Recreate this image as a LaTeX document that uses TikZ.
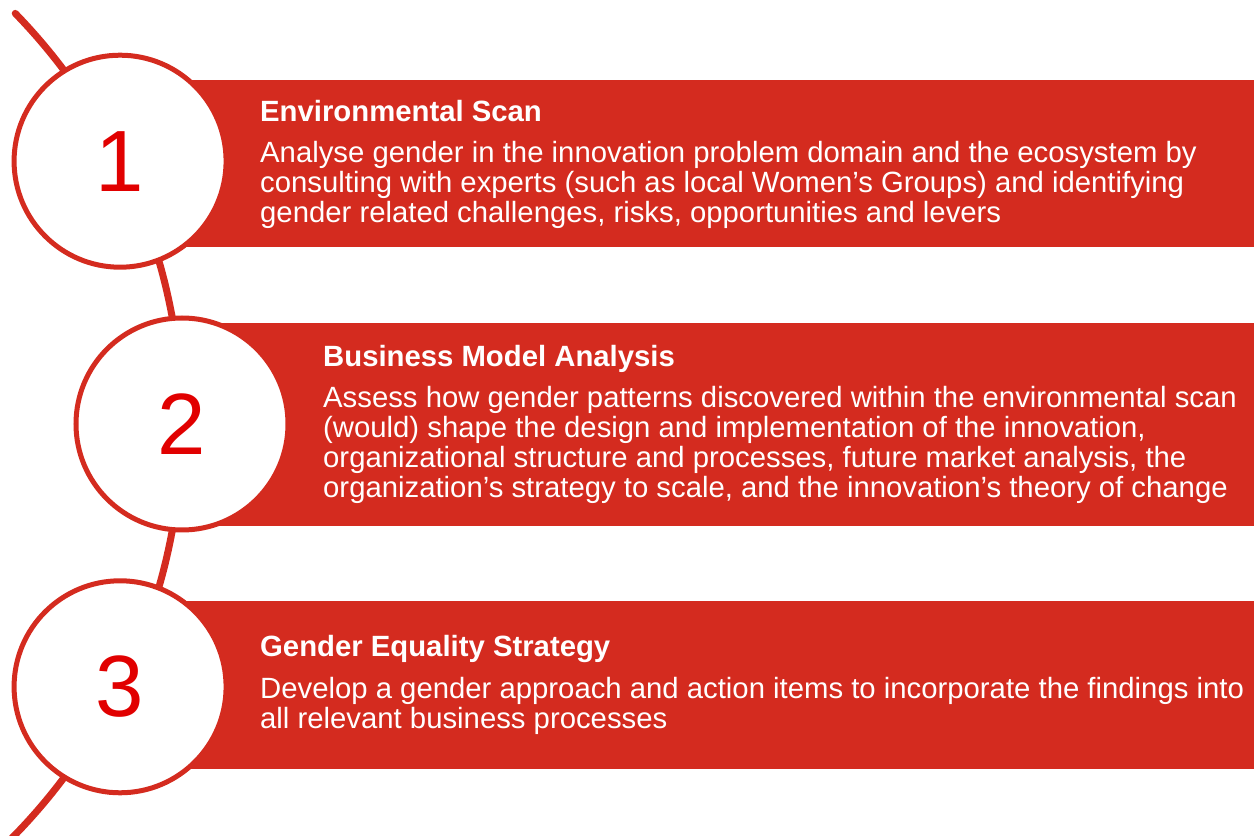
\documentclass[tikz,border=0pt]{standalone}
\usepackage{fontspec}
\setmainfont{Liberation Sans}
\usetikzlibrary{positioning,calc}
\definecolor{bandred}{HTML}{D42B1F}
\definecolor{digitred}{HTML}{E10000}

\begin{document}
\begin{tikzpicture}[
    x=1pt, y=1pt,
    band/.style={fill=bandred, draw=none, anchor=west, inner sep=0, minimum width=1140pt},
    stepcircle/.style={circle, draw=bandred, line width=5pt, fill=white, minimum size=212pt, inner sep=0,
        text=digitred, font=\fontsize{87}{87}\selectfont},
    steptitle/.style={anchor=base west, inner sep=0, text=white, font=\fontsize{29.3}{30}\selectfont\bfseries},
    stepbody/.style={anchor=base west, inner sep=0, align=left, text=white, font=\fontsize{29.3}{30}\selectfont},
    spine/.style={draw=bandred, line width=7pt, line cap=round}
]
\useasboundingbox (0,0) rectangle (1254,836);

% centre of the big arc the steps hang on
\coordinate (hub) at (-407,412);

% red bands behind the circles
\node[band, minimum height=167pt] (b1) at (114,672.5) {};
\node[band, minimum height=203pt] (b2) at (176,411.5) {};
\node[band, minimum height=168pt] (b3) at (114,151) {};

\draw[spine] ($(hub)+(44.2:589)$) arc[start angle=44.2, end angle=-50, radius=589];

% numbered steps on the arc
\node[stepcircle] (s1) at ($(hub)+(26.5:589)$) {1};
\node[stepcircle] (s2) at ($(hub)+(0:589)$) {2};
\node[stepcircle] (s3) at ($(hub)+(-26.5:589)$) {3};

% step 1 (body nodes sit on the baseline of their last line)
\node[steptitle] (h1) at (260,714) {Environmental Scan};
\node[stepbody] (d1) at (260,613)
{Analyse gender in the innovation problem domain and the ecosystem by\\
consulting with experts (such as local Women’s Groups) and identifying\\
gender related challenges, risks, opportunities and levers};

% step 2
\node[steptitle] (h2) at (323,469) {Business Model Analysis};
\node[stepbody] (d2) at (323,338)
{Assess how gender patterns discovered within the environmental scan\\
(would) shape the design and implementation of the innovation,\\
organizational structure and processes, future market analysis, the\\
organization’s strategy to scale, and the innovation’s theory of change};

% step 3
\node[steptitle] (h3) at (260,179) {Gender Equality Strategy};
\node[stepbody] (d3) at (260,107)
{Develop a gender approach and action items to incorporate the findings into\\
all relevant business processes};

\end{tikzpicture}
\end{document}
